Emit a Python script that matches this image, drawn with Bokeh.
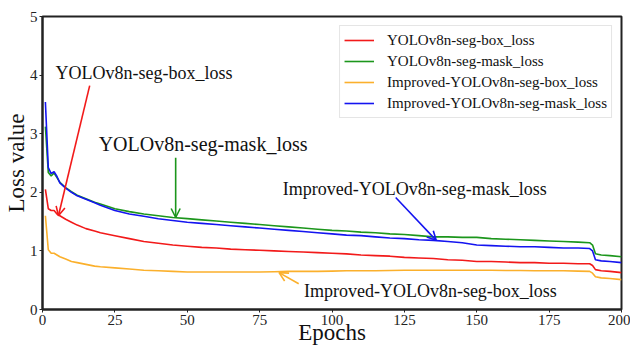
from bokeh.plotting import figure
from bokeh.models import Arrow, OpenHead, Label, Legend, LegendItem, FixedTicker, Range1d
from bokeh.embed import file_html
from bokeh.resources import INLINE

epochs = [1, 2, 3, 4, 5, 6, 8, 10, 12, 15, 18, 20,
          25, 30, 35, 40, 45, 50, 55, 60, 65, 70, 75, 80, 85, 90, 95, 100,
          105, 110, 115, 120, 125, 130, 135, 140, 145, 150, 155, 160, 165,
          170, 175, 180, 185, 189, 190, 191, 193, 196, 200]

box_v8 = [2.05, 1.72, 1.69, 1.69, 1.63, 1.60, 1.54, 1.49, 1.44, 1.38, 1.34, 1.31,
          1.26, 1.21, 1.16, 1.13, 1.10, 1.08, 1.06, 1.05, 1.03, 1.02, 1.01, 1.00,
          0.99, 0.98, 0.97, 0.96, 0.95, 0.93, 0.92, 0.91, 0.89, 0.88, 0.87, 0.85,
          0.84, 0.82, 0.82, 0.81, 0.80, 0.80, 0.79, 0.79, 0.78, 0.78, 0.75, 0.68,
          0.66, 0.65, 0.63]

mask_v8 = [3.12, 2.34, 2.28, 2.33, 2.25, 2.17, 2.08, 2.01, 1.95, 1.89, 1.83, 1.80,
           1.72, 1.67, 1.63, 1.60, 1.57, 1.55, 1.53, 1.51, 1.49, 1.47, 1.45, 1.43,
           1.41, 1.39, 1.37, 1.35, 1.34, 1.32, 1.31, 1.29, 1.28, 1.26, 1.24, 1.24,
           1.23, 1.23, 1.21, 1.20, 1.19, 1.18, 1.17, 1.16, 1.15, 1.14, 1.10, 0.95,
           0.93, 0.92, 0.90]

box_imp = [1.60, 1.02, 0.96, 0.96, 0.93, 0.90, 0.86, 0.82, 0.80, 0.77, 0.74, 0.73,
           0.71, 0.69, 0.67, 0.66, 0.65, 0.64, 0.64, 0.64, 0.64, 0.64, 0.64, 0.645,
           0.65, 0.65, 0.65, 0.655, 0.66, 0.66, 0.66, 0.665, 0.67, 0.67, 0.67, 0.67,
           0.67, 0.67, 0.67, 0.665, 0.665, 0.66, 0.66, 0.66, 0.655, 0.65, 0.62, 0.56,
           0.54, 0.53, 0.51]

mask_imp = [3.54, 2.42, 2.32, 2.35, 2.27, 2.16, 2.07, 2.00, 1.94, 1.88, 1.82, 1.78,
            1.69, 1.63, 1.59, 1.55, 1.52, 1.49, 1.47, 1.45, 1.43, 1.41, 1.39, 1.37,
            1.35, 1.33, 1.31, 1.29, 1.27, 1.26, 1.24, 1.22, 1.21, 1.19, 1.18, 1.16,
            1.14, 1.10, 1.09, 1.08, 1.07, 1.07, 1.06, 1.05, 1.05, 1.04, 1.00, 0.85,
            0.83, 0.82, 0.80]

series_names = ["YOLOv8n-seg-box_loss", "YOLOv8n-seg-mask_loss",
                "Improved-YOLOv8n-seg-box_loss", "Improved-YOLOv8n-seg-mask_loss"]
colors = ["#f21a1a", "#1c961c", "#fbb02c", "#1414f0"]

x_ticks = [0, 25, 50, 75, 100, 125, 150, 175, 200]
y_ticks = [0, 1, 2, 3, 4, 5]

FONT = "Liberation Serif"

p = figure(width=630, height=347, x_range=Range1d(0, 200), y_range=Range1d(0, 5),
           output_backend="svg", toolbar_location=None,
           min_border_left=42, min_border_right=9, min_border_top=16, min_border_bottom=38)

p.background_fill_color = "white"
p.border_fill_color = "white"
p.outline_line_color = "#222222"
p.outline_line_width = 2
p.xgrid.visible = False
p.ygrid.visible = False

for ax in (p.xaxis[0], p.yaxis[0]):
    ax.axis_line_color = "#222222"
    ax.axis_line_width = 2
    ax.major_tick_line_color = "#222222"
    ax.major_tick_in = 0
    ax.major_tick_out = 3
    ax.minor_tick_line_color = None
    ax.major_label_text_font = FONT
    ax.major_label_text_font_size = "15px"
    ax.major_label_text_color = "#222222"
    ax.axis_label_text_font = FONT
    ax.axis_label_text_font_size = "23px"
    ax.axis_label_text_font_style = "normal"
    ax.axis_label_text_color = "#111111"

p.xaxis.ticker = FixedTicker(ticks=x_ticks)
p.yaxis.ticker = FixedTicker(ticks=y_ticks)
p.xaxis.axis_label = "Epochs"
p.yaxis.axis_label = "Loss value"
p.xaxis.major_label_standoff = 2
p.yaxis.major_label_standoff = 2
p.xaxis.axis_label_standoff = -8
p.yaxis.axis_label_standoff = -2

data = [box_v8, mask_v8, box_imp, mask_imp]
renderers = []
for vals, c in zip(data, colors):
    r = p.line(epochs, vals, line_color=c, line_width=1.6)
    renderers.append(r)

legend = Legend(items=[LegendItem(label=n, renderers=[r]) for n, r in zip(series_names, renderers)],
                location="top_right")
legend.label_text_font = FONT
legend.label_text_font_size = "15px"
legend.label_text_color = "#111111"
legend.glyph_width = 30
legend.glyph_height = 20
legend.label_height = 20
legend.label_standoff = 13
legend.spacing = 1
legend.padding = 4
legend.margin = 9
legend.border_line_color = "#cccccc"
legend.border_line_width = 1
legend.background_fill_alpha = 1
p.add_layout(legend)

annotations = [
    ("YOLOv8n-seg-box_loss", 4.5, 4.04, "18px"),
    ("YOLOv8n-seg-mask_loss", 19.4, 2.82, "20px"),
    ("Improved-YOLOv8n-seg-mask_loss", 83.0, 2.05, "18px"),
    ("Improved-YOLOv8n-seg-box_loss", 90.3, 0.31, "18px"),
]
for txt, x, y, sz in annotations:
    p.add_layout(Label(x=x, y=y, text=txt, text_font=FONT, text_font_size=sz,
                       text_baseline="middle", text_align="left", text_color="#111111"))

arrows = [
    (16.3, 3.82, 5.5, 1.60, colors[0]),
    (46.0, 2.59, 46.0, 1.57, colors[1]),
    (122.0, 1.91, 136.0, 1.18, colors[3]),
    (88.5, 0.44, 81.7, 0.63, colors[2]),
]
for xs, ys, xe, ye, c in arrows:
    p.add_layout(Arrow(x_start=xs, y_start=ys, x_end=xe, y_end=ye, line_color=c, line_width=1.6,
                       end=OpenHead(size=9, line_color=c, line_width=1.6)))

open("out.html", "w").write(file_html(p, INLINE))
